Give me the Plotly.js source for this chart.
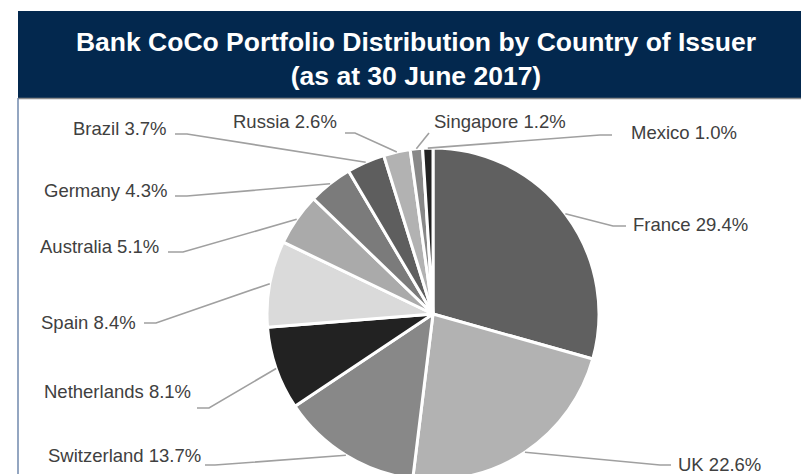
<!DOCTYPE html>
<html>
<head>
<meta charset="utf-8">
<script src="https://cdn.plot.ly/plotly-3.0.1.min.js"></script>
<style>
  html, body { margin: 0; padding: 0; width: 801px; height: 474px; overflow: hidden; background: #fff; }
  #wrap { width: 801px; height: 474px; overflow: hidden; position: relative; }
  #chart { width: 801px; height: 520px; position: absolute; left: 0; top: 0; }
</style>
</head>
<body>
<div id="wrap"><div id="chart"></div></div>
<script>
// ---- data ----
const countries = ['France', 'UK', 'Switzerland', 'Netherlands', 'Spain', 'Australia', 'Germany', 'Brazil', 'Russia', 'Singapore', 'Mexico'];
const shares = [29.4, 22.6, 13.7, 8.1, 8.4, 5.1, 4.3, 3.7, 2.6, 1.2, 1.0];
const sliceColors = ['#606060', '#b2b2b2', '#888888', '#222222', '#dadada', '#aaaaaa', '#7b7b7b', '#5e5e5e', '#b2b2b2', '#888888', '#222222'];
const titleText = 'Bank CoCo Portfolio Distribution by Country of Issuer<br>(as at 30 June 2017)';

// ---- layout constants (pixels) ----
const W = 801, H = 520;
const cx = 433, cy = 314, R = 166;
// label placement: [textX, textY, side, connectorEndX, connectorY, elbowX]
const labelLayout = [
  [632, 224, 'R', 626, 226, 613],
  [677, 464, 'R', 671, 465, 660],
  [202, 455, 'L', 205, 465, 215],
  [192, 391, 'L', 197, 408, 209],
  [137, 322, 'L', 144, 323, 156],
  [160, 246, 'L', 168, 252, 183],
  [168, 190, 'L', 175, 196, 187],
  [168, 128, 'L', 175, 134, 187],
  [338, 121, 'L', 345, 133, 355],
  [433, 121, 'R', 429, 133, 429],
  [630, 132, 'R', 612, 135, 600]
];

const px = x => x / W;
const py = y => 1 - y / H;
const FONT = 'Liberation Sans, Arial, Helvetica, sans-serif';

const total = shares.reduce((a, b) => a + b, 0);
let cum = 0;
const annotations = [];
const shapes = [];

// frame
shapes.push({type: 'rect', xref: 'paper', yref: 'paper', layer: 'below',
  x0: px(18), x1: px(830), y0: py(98), y1: py(11),
  fillcolor: '#03284e', line: {width: 0}});
shapes.push({type: 'line', xref: 'paper', yref: 'paper', layer: 'below',
  x0: px(18), x1: px(830), y0: py(98.5), y1: py(98.5),
  line: {color: '#8c8c8c', width: 1.5}});
shapes.push({type: 'line', xref: 'paper', yref: 'paper', layer: 'below',
  x0: px(18), x1: px(18), y0: py(98), y1: py(H),
  line: {color: '#7189ac', width: 1.5}});

shares.forEach((v, i) => {
  const a = 2 * Math.PI * (cum + v / 2) / total;
  cum += v;
  const ex = cx + R * Math.sin(a);
  const ey = cy - R * Math.cos(a);
  const [tx, ty, side, endX, cY, elbX] = labelLayout[i];
  shapes.push({
    type: 'path', xref: 'paper', yref: 'paper', layer: 'above',
    path: `M ${px(ex)},${py(ey)} L ${px(elbX)},${py(cY)} L ${px(endX)},${py(cY)}`,
    line: {color: '#a0a0a0', width: 1.6}
  });
  annotations.push({
    xref: 'paper', yref: 'paper', x: px(tx), y: py(ty),
    xanchor: side === 'R' ? 'left' : 'right', yanchor: 'middle',
    text: countries[i] + ' ' + v.toFixed(1) + '%',
    showarrow: false, borderpad: 0,
    font: {family: FONT, size: 18.5, color: '#404040'}
  });
});

const trace = {
  type: 'pie',
  labels: countries,
  values: shares,
  sort: false,
  direction: 'clockwise',
  rotation: 0,
  textinfo: 'none',
  hoverinfo: 'skip',
  showlegend: false,
  marker: {colors: sliceColors, line: {color: '#ffffff', width: 3}},
  domain: {x: [px(cx - R), px(cx + R)], y: [py(cy + R), py(cy - R)]}
};

const layout = {
  width: W, height: H,
  margin: {l: 0, r: 0, t: 0, b: 0, pad: 0},
  paper_bgcolor: '#ffffff',
  showlegend: false,
  title: {
    text: titleText,
    font: {family: FONT, size: 26.5, color: '#ffffff', weight: 'bold'},
    x: 416 / W, xref: 'container', xanchor: 'center',
    y: 1 - 50.5 / H, yref: 'container', yanchor: 'middle'
  },
  shapes: shapes,
  annotations: annotations
};

Plotly.newPlot('chart', [trace], layout, {displayModeBar: false, staticPlot: true});
</script>
</body>
</html>
